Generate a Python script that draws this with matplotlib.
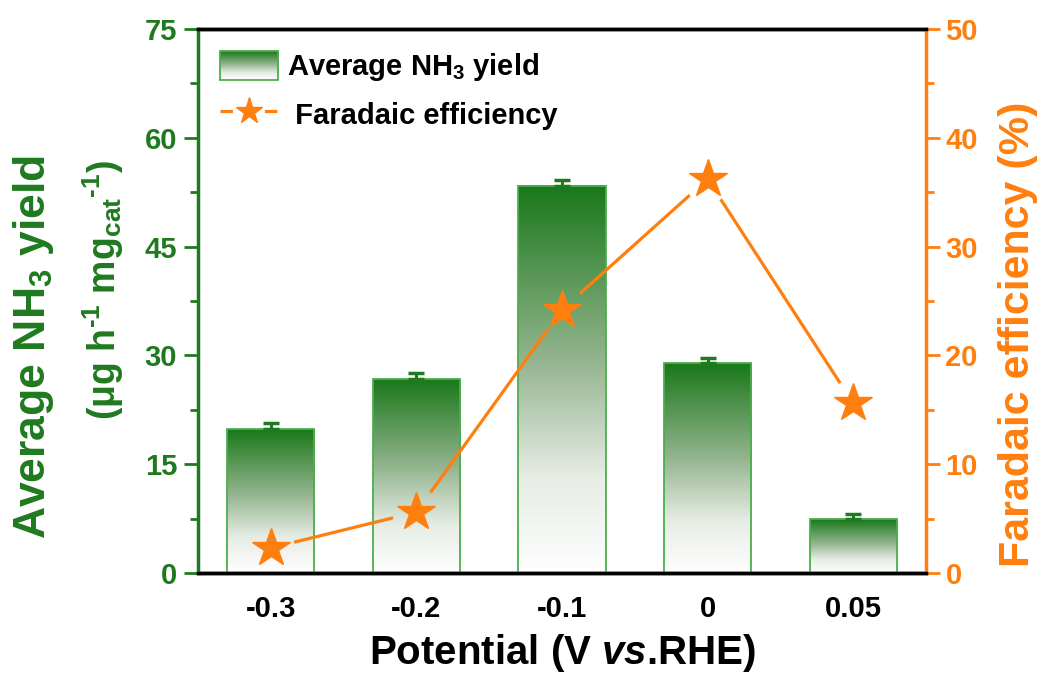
import matplotlib
matplotlib.use('Agg')
import matplotlib.pyplot as plt
import numpy as np
from matplotlib.colors import LinearSegmentedColormap
from matplotlib.legend_handler import HandlerBase
from matplotlib.image import BboxImage
from matplotlib.transforms import Bbox, TransformedBbox
from matplotlib.patches import Rectangle
from matplotlib.lines import Line2D
from matplotlib.ticker import MultipleLocator

plt.rcParams['font.family'] = ['Liberation Sans', 'DejaVu Sans']
plt.rcParams['font.weight'] = 'bold'
plt.rcParams['axes.labelweight'] = 'bold'
plt.rcParams['mathtext.fontset'] = 'custom'
plt.rcParams['mathtext.rm'] = 'Liberation Sans:bold'
plt.rcParams['mathtext.it'] = 'Liberation Sans:italic:bold'
plt.rcParams['mathtext.bf'] = 'Liberation Sans:bold'

# data
potentials = ['-0.3', '-0.2', '-0.1', '0', '0.05']
nh3_yield = [19.8, 26.7, 53.4, 28.9, 7.4]
nh3_err = [0.9, 0.9, 0.8, 0.8, 0.8]
faradaic_eff = [2.3, 5.6, 24.2, 36.2, 15.6]

green = '#1f7a1f'
edge_green = '#4cae4c'
orange = '#ff7f0e'

cmap = LinearSegmentedColormap.from_list(
    'g', [(0, '#ffffff'), (0.25, '#e6ece4'), (0.55, '#93b48e'), (1.0, '#1a781a')])
grad = np.linspace(1, 0, 256).reshape(-1, 1)

fig = plt.figure(figsize=(10.46, 6.78), dpi=100)
ax = fig.add_axes([0.1893, 0.1549, 0.696, 0.8023])
ax2 = ax.twinx()

x = np.arange(len(potentials))
w = 0.6
bars = ax.bar(x, nh3_yield, width=w, facecolor='none', edgecolor=edge_green,
              linewidth=1.3, zorder=3)
for xi, h in zip(x, nh3_yield):
    ax.imshow(grad, extent=[xi - w / 2, xi + w / 2, 0, h], aspect='auto',
              cmap=cmap, vmin=0, vmax=1, zorder=2, interpolation='bicubic')
ax.errorbar(x, nh3_yield, yerr=[np.zeros(len(x)), nh3_err], fmt='none',
            ecolor=green, elinewidth=2.2, capsize=5.5, capthick=2.5, zorder=4)

ax.set_xlim(-0.5, 4.5)
ax.set_ylim(0, 75)
ax.set_xticks(x)
ax.set_xticklabels(potentials)
ax.yaxis.set_major_locator(MultipleLocator(15))
ax.yaxis.set_minor_locator(MultipleLocator(7.5))
ax2.set_ylim(0, 50)
ax2.yaxis.set_major_locator(MultipleLocator(10))
ax2.yaxis.set_minor_locator(MultipleLocator(5))

# line segments with small gaps around the star markers
gap = 24  # px
pts = ax2.transData.transform(np.column_stack([x, faradaic_eff]))
for p0, p1 in zip(pts[:-1], pts[1:]):
    d = p1 - p0
    u = d / np.hypot(*d)
    seg = ax2.transData.inverted().transform(np.array([p0 + u * gap, p1 - u * gap]))
    ax2.plot(seg[:, 0], seg[:, 1], color=orange, lw=2.3, solid_capstyle='butt',
             zorder=3)
ax2.plot(x, faradaic_eff, ls='none', marker='*', ms=29, color=orange,
         zorder=5)

# spines / ticks
for a in (ax, ax2):
    for s in ['top', 'bottom']:
        a.spines[s].set_color('black')
        a.spines[s].set_linewidth(2.5)
ax2.spines['left'].set_color(green)
ax2.spines['left'].set_linewidth(2.5)
ax2.spines['right'].set_color(orange)
ax2.spines['right'].set_linewidth(2.5)
ax.spines['left'].set_visible(False)
ax.spines['right'].set_visible(False)

ax.tick_params(axis='x', length=0, labelsize=21, pad=16, colors='black')
ax.tick_params(axis='y', which='major', length=10, width=2, direction='out',
               labelsize=21, colors=green, pad=5)
ax.tick_params(axis='y', which='minor', length=5.5, width=2, direction='out',
               colors=green)
ax2.tick_params(axis='y', which='major', length=10, width=2, direction='out',
                labelsize=21, colors=orange, pad=4)
ax2.tick_params(axis='y', which='minor', length=5.5, width=2, direction='out',
                colors=orange)

ax.set_xlabel('Potential (V $\\mathit{vs}$.RHE)', fontsize=29, labelpad=6)

fig.text(0.973, 0.507, 'Faradaic efficiency (%)', rotation=90, fontsize=31,
         color=orange, ha='center', va='center')
fig.text(0.032, 0.488, 'Average NH$_3$ yield', rotation=90, fontsize=32,
         color=green, ha='center', va='center')
fig.text(0.099, 0.572,
         '(\u03bcg h$^{\\text{-}1}$ mg$_{\\mathrm{cat}}$$^{\\text{-}1}$)',
         rotation=90, fontsize=27, color=green, ha='center', va='center')


class GradHandler(HandlerBase):
    def create_artists(self, legend, orig_handle, xdescent, ydescent,
                       width, height, fontsize, trans):
        bb = TransformedBbox(Bbox.from_bounds(-xdescent, -ydescent, width, height), trans)
        img = BboxImage(bb, cmap=cmap, norm=plt.Normalize(0, 1),
                        interpolation='bicubic')
        img.set_data(grad)
        rect = Rectangle((-xdescent, -ydescent), width, height, fill=False,
                         edgecolor=edge_green, lw=1.3, transform=trans)
        return [img, rect]


bar_proxy = Rectangle((0, 0), 1, 1)
line_proxy = Line2D([], [], color=orange, lw=2.3, ls=(0, (3.9, 10)), marker='*',
                    ms=20)
leg = ax2.legend([bar_proxy, line_proxy],
                 ['Average NH$_3$ yield', ' Faradaic efficiency'],
                 handler_map={Rectangle: GradHandler()},
                 loc='upper left', frameon=False, fontsize=21,
                 handlelength=2.0, handleheight=1.15, labelspacing=0.55,
                 handletextpad=0.3, borderaxespad=0.35)

fig.savefig('out.png', dpi=100)
